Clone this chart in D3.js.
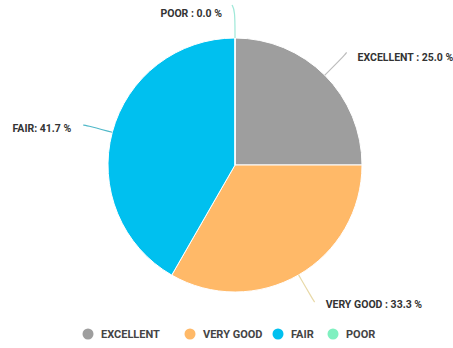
<!DOCTYPE html>
<html><head><meta charset="utf-8">
<script src="https://cdn.jsdelivr.net/npm/d3@7"></script>
<style>
html,body{margin:0;padding:0;background:#fff;}
svg{display:block;font-family:Roboto, "Noto Sans", sans-serif;}
</style></head>
<body>
<svg id="chart" width="453" height="348"></svg>
<script>
const categories = ["EXCELLENT", "VERY GOOD", "FAIR", "POOR"];
const values = [25.0, 33.3, 41.7, 0.0];
const colors = ["#9e9e9e", "#ffb968", "#00c0ef", "#80f0c0"];
const lineColors = ["#bdbdbd", "#e8d9a8", "#4fb8c8", "#9fe8d8"];

const svg = d3.select("#chart");
const cx = 235, cy = 165, r = 127, rOut = 155;

const data = categories.map((c, i) => ({ name: c, value: values[i], color: colors[i], lc: lineColors[i] }));
const pie = d3.pie().sort(null).value(d => d.value);
const arcs = pie(data);
const arc = d3.arc().innerRadius(0).outerRadius(r);

const g = svg.append("g").attr("transform", `translate(${cx},${cy})`);
g.selectAll("path.slice").data(arcs).enter().append("path")
  .attr("class", "slice")
  .attr("d", arc)
  .attr("fill", d => d.data.color)
  .attr("stroke", "#fff")
  .attr("stroke-width", 1);

const pt = (a, rad) => [rad * Math.sin(a), -rad * Math.cos(a)];
arcs.forEach(d => {
  const mid = (d.startAngle + d.endAngle) / 2;
  const p0 = pt(mid, r);
  const p1 = pt(mid, rOut);
  const s = Math.sin(mid), c = Math.cos(mid);
  const right = s > 0.01;
  const left = s < -0.01;
  let p2;
  if (right) p2 = [p1[0] + 2, p1[1] + (c > 0 ? -3 : 3)];
  else if (left) p2 = [p1[0] - 2, p1[1]];
  else p2 = [p1[0] - 3, p1[1] - 5];
  g.append("path")
    .attr("d", d3.line().curve(d3.curveBasis)([p0, p1, p2]))
    .attr("fill", "none")
    .attr("stroke", d.data.lc)
    .attr("stroke-width", 1.2);
  let tx, ty;
  if (right) { tx = p2[0] + 11; ty = p2[1] + (c > 0 ? 5 : 2); }
  else if (left) { tx = p2[0] - 12; ty = p2[1] + 3; }
  else { tx = p2[0] - 10; ty = p2[1] + 8; }
  const sep = d.data.name === "FAIR" ? ": " : " : ";
  g.append("text")
    .attr("x", tx).attr("y", ty)
    .attr("dy", "0.35em")
    .attr("text-anchor", right ? "start" : "end")
    .attr("font-size", 10.5)
    .attr("font-weight", 700)
    .attr("fill", "#333")
    .text(d.data.name + sep + d3.format(".1f")(d.data.value) + " %");
});

const legendX = [88, 190, 278, 333];
const lg = svg.append("g").attr("transform", "translate(0,334)");
data.forEach((d, i) => {
  lg.append("circle").attr("cx", legendX[i]).attr("cy", 0).attr("r", 5.5).attr("fill", d.color);
  lg.append("text").attr("x", legendX[i] + 13).attr("y", 0).attr("dy", "0.35em")
    .attr("font-size", 11).attr("font-weight", 700).attr("fill", "#444")
    .text(d.name);
});
</script>
</body></html>
